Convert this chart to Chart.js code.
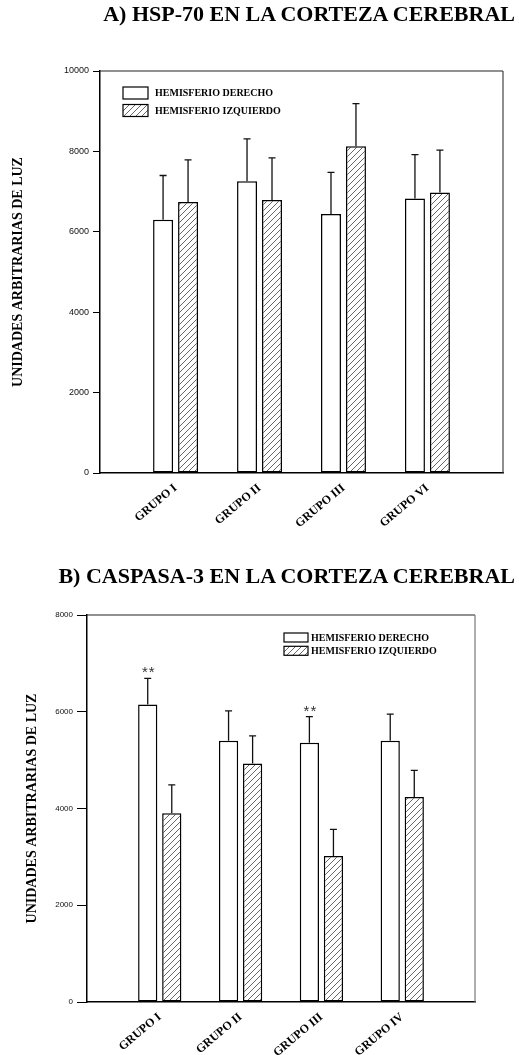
<!DOCTYPE html>
<html>
<head>
<meta charset="utf-8">
<script src="https://cdn.jsdelivr.net/npm/chart.js@4.4.1/dist/chart.umd.min.js"></script>
<style>
  html, body { margin: 0; padding: 0; background: #fff; }
  #page { position: relative; width: 519px; height: 1055px; overflow: hidden; background: #fff; }
  canvas { position: absolute; left: 0; }
  .titulo { position: absolute; right: 4px; z-index: 2; font: bold 22px "Liberation Serif", "Times New Roman", serif;
            color: #000; white-space: nowrap; line-height: 1; }
</style>
</head>
<body>
<div id="page">
  <canvas id="chartA" width="519" height="540" style="top:0"></canvas>
  <canvas id="chartB" width="519" height="515" style="top:540px"></canvas>
  <div class="titulo" style="top:3px">A) HSP-70 EN LA CORTEZA CEREBRAL</div>
  <div class="titulo" style="top:565px">B) CASPASA-3 EN LA CORTEZA CEREBRAL</div>
</div>
<script>
// Groups and series
const gruposA = ['GRUPO I', 'GRUPO II', 'GRUPO III', 'GRUPO VI'];
const gruposB = ['GRUPO I', 'GRUPO II', 'GRUPO III', 'GRUPO IV'];
const posiciones = [1, 2, 3, 4];
const series = ['HEMISFERIO DERECHO', 'HEMISFERIO IZQUIERDO'];
const tituloY = 'UNIDADES ARBITRARIAS DE LUZ';

// A) HSP-70: means and upper error
const hspDerecho = [6300, 7260, 6440, 6830];
const hspDerechoErr = [1100, 1050, 1040, 1090];
const hspIzquierdo = [6740, 6790, 8130, 6980];
const hspIzquierdoErr = [1050, 1050, 1060, 1050];
const ticksA = [0, 2000, 4000, 6000, 8000, 10000];

// B) Caspasa-3: means and upper error
const casDerecho = [6150, 5400, 5360, 5400];
const casDerechoErr = [540, 620, 540, 550];
const casIzquierdo = [3900, 4930, 3020, 4240];
const casIzquierdoErr = [590, 570, 550, 550];
const casSignif = ['**', '', '**', ''];
const ticksB = [0, 2000, 4000, 6000, 8000];

Chart.defaults.font.family = '"Liberation Sans", Arial, sans-serif';
Chart.defaults.color = '#000';

// diagonal hatch fill for the left hemisphere
function rayado() {
  const c = document.createElement('canvas');
  c.width = 6; c.height = 6;
  const g = c.getContext('2d');
  g.fillStyle = '#fff';
  g.fillRect(0, 0, 6, 6);
  g.strokeStyle = '#555';
  g.lineWidth = 0.9;
  g.beginPath();
  g.moveTo(-1, 7); g.lineTo(7, -1);
  g.moveTo(-1, 1); g.lineTo(1, -1);
  g.moveTo(5, 7); g.lineTo(7, 5);
  g.stroke();
  return g.createPattern(c, 'repeat');
}
const relleno = rayado();

// top and right edges of the plot frame
const marco = {
  id: 'marco',
  afterDraw(chart, args, o) {
    const { ctx, chartArea: a } = chart;
    ctx.save();
    ctx.lineWidth = o.width;
    ctx.strokeStyle = o.topColor;
    ctx.beginPath(); ctx.moveTo(a.left, a.top); ctx.lineTo(a.right, a.top); ctx.stroke();
    ctx.strokeStyle = o.rightColor;
    ctx.beginPath(); ctx.moveTo(a.right, a.top); ctx.lineTo(a.right, a.bottom); ctx.stroke();
    ctx.restore();
  }
};

// upper error bars and significance marks
const barrasError = {
  id: 'barrasError',
  afterDatasetsDraw(chart, args, o) {
    const { ctx } = chart;
    const ys = chart.scales.y;
    chart.data.datasets.forEach((ds, i) => {
      const meta = chart.getDatasetMeta(i);
      meta.data.forEach((bar, j) => {
        const top = ys.getPixelForValue(ds.data[j].y + ds.errores[j]);
        ctx.save();
        ctx.strokeStyle = o.color;
        ctx.lineWidth = o.width;
        ctx.beginPath();
        ctx.moveTo(bar.x, bar.y);
        ctx.lineTo(bar.x, top);
        ctx.moveTo(bar.x - o.cap, top);
        ctx.lineTo(bar.x + o.cap, top);
        ctx.stroke();
        if (ds.marcas && ds.marcas[j]) {
          ctx.fillStyle = '#333';
          ctx.font = o.markFont;
          ctx.letterSpacing = '1px';
          ctx.textAlign = 'center';
          ctx.textBaseline = 'alphabetic';
          ctx.fillText(ds.marcas[j], bar.x + 1, top - o.markGap);
        }
        ctx.restore();
      });
    });
  }
};

// legend boxes inside the plot
const leyenda = {
  id: 'leyenda',
  afterDraw(chart, args, o) {
    const { ctx, chartArea: a } = chart;
    ctx.save();
    chart.data.datasets.forEach((ds, i) => {
      const x = a.left + o.dx;
      const y = a.top + o.dy + i * o.step;
      ctx.fillStyle = ds.backgroundColor;
      ctx.fillRect(x, y, o.w, o.h);
      ctx.strokeStyle = '#000';
      ctx.lineWidth = 1.2;
      ctx.strokeRect(x, y, o.w, o.h);
      ctx.fillStyle = '#000';
      ctx.font = o.font;
      ctx.textBaseline = 'middle';
      ctx.textAlign = 'left';
      ctx.fillText(ds.label, x + o.w + o.gap, y + o.h / 2 + 0.5);
    });
    ctx.restore();
  }
};

function crearGrafico(id, cfg) {
  const serie = (vals) => posiciones.map((x, i) => ({ x, y: vals[i] }));
  return new Chart(document.getElementById(id), {
    type: 'bar',
    data: {
      datasets: [
        { label: series[0], data: serie(cfg.der), errores: cfg.derErr, marcas: cfg.marcas,
          backgroundColor: '#fff', borderColor: '#000', borderWidth: 1.5, borderSkipped: false },
        { label: series[1], data: serie(cfg.izq), errores: cfg.izqErr,
          backgroundColor: relleno, borderColor: '#000', borderWidth: 1.5, borderSkipped: false }
      ]
    },
    options: {
      responsive: false,
      animation: false,
      devicePixelRatio: 1,
      layout: { padding: cfg.padding },
      datasets: { bar: { categoryPercentage: 0.595, barPercentage: 0.8 } },
      scales: {
        x: {
          type: 'linear', min: 0.1, max: 4.9, offset: false,
          afterBuildTicks: (s) => { s.ticks = posiciones.map((v) => ({ value: v })); },
          afterFit: (s) => { s.height = cfg.xAlto; },
          grid: { display: false, drawTicks: false },
          border: { display: true, color: '#000', width: 1.5 },
          ticks: {
            autoSkip: false, maxRotation: 40, minRotation: 40, padding: cfg.xPad, color: '#000',
            font: { family: '"Liberation Serif", "Times New Roman", serif', weight: 'bold', size: cfg.xFont },
            callback: (v, i) => cfg.grupos[i]
          }
        },
        y: {
          min: 0, max: cfg.max,
          afterBuildTicks: (s) => { s.ticks = cfg.ticks.map((v) => ({ value: v })); },
          afterFit: (s) => { s.width = cfg.yAncho; },
          grid: { drawOnChartArea: false, drawTicks: true, tickLength: cfg.tickLen, color: '#000', tickColor: '#000', tickWidth: 1 },
          border: { display: true, color: '#000', width: 1.5 },
          ticks: { padding: 4, color: '#111', font: { size: cfg.yFont }, callback: (v) => String(v) },
          title: {
            display: true, text: tituloY, color: '#000',
            font: { family: '"Liberation Serif", "Times New Roman", serif', weight: 'bold', size: 14 },
            padding: { top: cfg.tituloPad, bottom: 0 }
          }
        }
      },
      plugins: {
        legend: { display: false },
        tooltip: { enabled: false },
        marco: { width: 1.2, topColor: cfg.topColor, rightColor: cfg.rightColor },
        barrasError: { color: '#111', width: 1.3, cap: 3.5, markFont: '15px "Liberation Sans", Arial, sans-serif', markGap: 1 },
        leyenda: cfg.leyenda
      }
    },
    plugins: [marco, barrasError, leyenda]
  });
}

crearGrafico('chartA', {
  grupos: gruposA, der: hspDerecho, derErr: hspDerechoErr, izq: hspIzquierdo, izqErr: hspIzquierdoErr,
  marcas: null, max: 10000, ticks: ticksA,
  padding: { top: 71, right: 16, left: 0, bottom: 0 }, yAncho: 100, xAlto: 67, xPad: 8, xFont: 12,
  tickLen: 7, yFont: 9, tituloPad: 10, topColor: '#222', rightColor: '#444',
  leyenda: { dx: 23, dy: 16, w: 25, h: 12, step: 17.5, gap: 7, font: 'bold 10px "Liberation Serif", "Times New Roman", serif' }
});

crearGrafico('chartB', {
  grupos: gruposB, der: casDerecho, derErr: casDerechoErr, izq: casIzquierdo, izqErr: casIzquierdoErr,
  marcas: casSignif, max: 8000, ticks: ticksB,
  padding: { top: 75, right: 44, left: 0, bottom: 0 }, yAncho: 87, xAlto: 53, xPad: 8, xFont: 12,
  tickLen: 10, yFont: 8, tituloPad: 24, topColor: '#222', rightColor: '#777',
  leyenda: { dx: 197, dy: 18, w: 24, h: 9, step: 13.3, gap: 3, font: 'bold 10px "Liberation Serif", "Times New Roman", serif' }
});
</script>
</body>
</html>
